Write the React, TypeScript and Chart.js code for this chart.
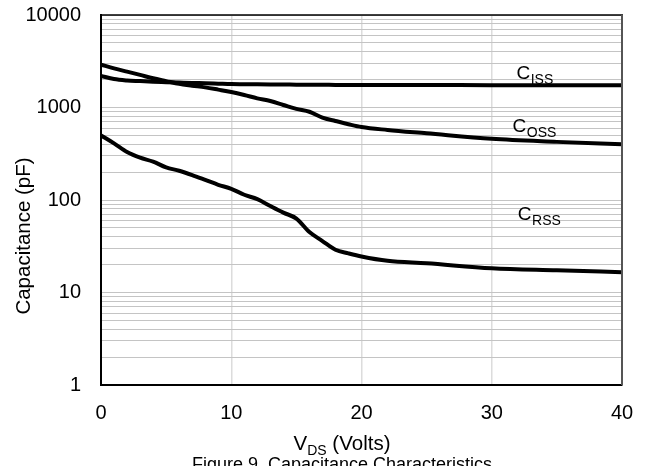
import React, { useEffect, useRef } from 'react';
import { Chart, registerables } from 'chart.js';

Chart.register(...registerables);

// ---- Data ----
const vds = [0, 1, 2, 3, 4, 5, 6, 7, 8, 9, 10, 11, 12, 13, 14, 15, 16, 17, 18, 19, 20, 22, 25, 30, 35, 40];
const ciss = [2200, 2030, 1960, 1930, 1900, 1880, 1860, 1840, 1830, 1810, 1790, 1785, 1780, 1775, 1770, 1765, 1760, 1760, 1755, 1755, 1750, 1750, 1750, 1745, 1745, 1740];
const coss = [2900, 2650, 2440, 2250, 2070, 1930, 1800, 1720, 1650, 1560, 1470, 1365, 1255, 1175, 1065, 965, 900, 776, 715, 660, 615, 572, 526, 458, 425, 400];
const crss = [500, 410, 330, 287, 260, 225, 207, 186, 165, 146, 132, 114, 102, 86, 73, 63, 45, 36, 29, 26.5, 24.5, 22, 20.7, 18.3, 17.4, 16.6];

const yDecades = [1, 10, 100, 1000, 10000];
const yTickLabels = ['1', '10', '100', '1000', '10000'];
const yMinorSteps = [1, 2, 3, 4, 5, 6, 7, 8, 9];
const xTicks = [0, 10, 20, 30, 40];

const curveLetter = ['C', 'C', 'C'];
const curveSubs = ['ISS', 'OSS', 'RSS'];
const labelX = [31.9, 31.6, 32.0];
const labelY = [2030, 543, 61];

const xTitleMain = 'V';
const xTitleSub = 'DS';
const xTitleRest = ' (Volts)';
const yTitle = 'Capacitance (pF)';
const caption = 'Figure 9. Capacitance Characteristics';

const FONT = '"Liberation Sans", Arial, Helvetica, sans-serif';

const decorPlugin = {
  id: 'decor',
  afterDraw(chart: any) {
    const { ctx, chartArea: a } = chart;
    const xs = chart.scales.x;
    const ys = chart.scales.y;
    ctx.save();
    // top & right frame
    ctx.lineCap = 'butt';
    ctx.strokeStyle = '#000';
    ctx.lineWidth = 1.5;
    ctx.beginPath();
    ctx.moveTo(a.left, a.top);
    ctx.lineTo(a.right + 1, a.top);
    ctx.stroke();
    ctx.strokeStyle = '#555';
    ctx.lineWidth = 2;
    ctx.beginPath();
    ctx.moveTo(a.right, a.top);
    ctx.lineTo(a.right, a.bottom);
    ctx.stroke();

    ctx.fillStyle = '#000';
    ctx.textBaseline = 'alphabetic';
    ctx.textAlign = 'left';
    // curve labels
    for (let i = 0; i < curveLetter.length; i++) {
      const px = xs.getPixelForValue(labelX[i]);
      const py = ys.getPixelForValue(labelY[i]);
      ctx.font = `19px ${FONT}`;
      ctx.fillText(curveLetter[i], px, py);
      const w = ctx.measureText(curveLetter[i]).width;
      ctx.font = `14px ${FONT}`;
      ctx.fillText(curveSubs[i], px + w + 0.5, py + 5);
    }

    // x title with subscript
    const big = `20.5px ${FONT}`;
    const small = `14px ${FONT}`;
    ctx.font = big;
    const w1 = ctx.measureText(xTitleMain).width;
    const w3 = ctx.measureText(xTitleRest).width;
    ctx.font = small;
    const w2 = ctx.measureText(xTitleSub).width;
    const total = w1 + w2 + w3;
    const sx = 342 - total / 2;
    const by = 450;
    ctx.font = big;
    ctx.fillText(xTitleMain, sx, by);
    ctx.font = small;
    ctx.fillText(xTitleSub, sx + w1, by + 5);
    ctx.font = big;
    ctx.fillText(xTitleRest, sx + w1 + w2, by);

    // caption (cut off at the bottom)
    ctx.font = `18px ${FONT}`;
    ctx.textAlign = 'center';
    ctx.fillText(caption, 342, 470);

    // y title
    ctx.translate(24, (a.top + a.bottom) / 2 + 36);
    ctx.rotate(-Math.PI / 2);
    ctx.font = `20.5px ${FONT}`;
    ctx.textAlign = 'center';
    ctx.textBaseline = 'middle';
    ctx.fillText(yTitle, 0, 0);
    ctx.restore();
  },
};

export default function App() {
  const ref = useRef<HTMLCanvasElement | null>(null);
  useEffect(() => {
    if (!ref.current) return;
    const mk = (vals: number[]) => vds.map((x, i) => ({ x, y: vals[i] }));
    const common = {
      borderColor: '#000',
      backgroundColor: '#000',
      borderWidth: 4,
      pointRadius: 0,
      fill: false,
      cubicInterpolationMode: 'monotone' as const,
    };
    const chart = new Chart(ref.current, {
      type: 'line',
      data: {
        datasets: [
          { label: 'Ciss', data: mk(ciss), ...common },
          { label: 'Coss', data: mk(coss), ...common },
          { label: 'Crss', data: mk(crss), ...common },
        ],
      },
      options: {
        animation: false,
        responsive: false,
        devicePixelRatio: 1,
        layout: { padding: { top: 15, right: 26, left: 0, bottom: 0 } },
        plugins: { legend: { display: false }, tooltip: { enabled: false }, title: { display: false } },
        scales: {
          x: {
            type: 'linear',
            min: 0,
            max: 40,
            afterBuildTicks: (scale: any) => {
              scale.ticks = xTicks.map((v) => ({ value: v }));
            },
            afterFit: (scale: any) => {
              scale.height = 81;
              scale.paddingLeft = 0;
              scale.paddingRight = 0;
            },
            grid: { color: '#dcdcdc', lineWidth: 1.5, drawTicks: false },
            border: { display: true, color: '#000', width: 2 },
            ticks: {
              font: { family: FONT, size: 20 },
              color: '#000',
              padding: 16,
              maxRotation: 0,
              autoSkip: false,
            },
          },
          y: {
            type: 'logarithmic',
            min: 1,
            max: 10000,
            afterBuildTicks: (scale: any) => {
              const t: any[] = [];
              for (let d = 0; d < yDecades.length; d++) {
                if (d === yDecades.length - 1) {
                  t.push({ value: yDecades[d] });
                } else {
                  for (const m of yMinorSteps) t.push({ value: yDecades[d] * m });
                }
              }
              scale.ticks = t;
            },
            afterFit: (scale: any) => {
              scale.width = 101;
              scale.paddingTop = 0;
              scale.paddingBottom = 0;
            },
            grid: { color: '#c4c4c4', lineWidth: 1, drawTicks: false },
            border: { display: true, color: '#000', width: 2 },
            ticks: {
              font: { family: FONT, size: 20 },
              color: '#000',
              padding: 20,
              autoSkip: false,
              callback: (value: any) => {
                const idx = yDecades.indexOf(Number(value));
                return idx >= 0 ? yTickLabels[idx] : '';
              },
            },
          },
        },
      },
      plugins: [decorPlugin],
    });
    return () => chart.destroy();
  }, []);

  return (
    <div style={{ position: 'fixed', left: 0, top: 0, width: 648, height: 466, background: '#fff' }}>
      <canvas ref={ref} width={648} height={466} style={{ width: 648, height: 466, display: 'block' }} />
    </div>
  );
}
